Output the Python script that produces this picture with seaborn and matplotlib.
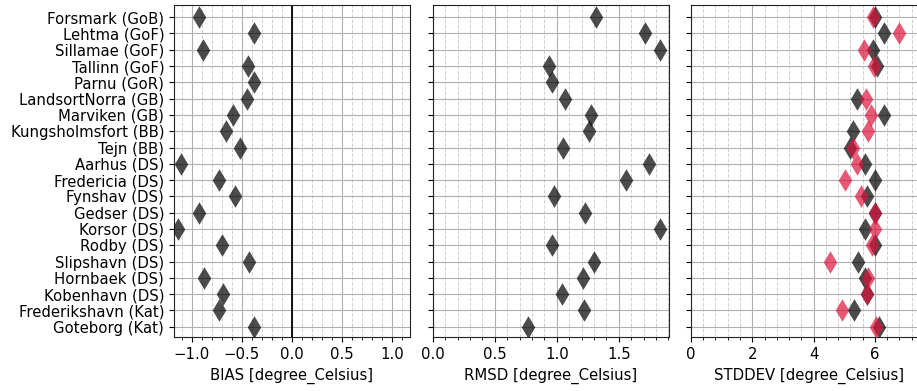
import numpy as np
import pandas as pd
import matplotlib
matplotlib.use("Agg")
import matplotlib.pyplot as plt
from matplotlib.ticker import AutoMinorLocator, MultipleLocator
import seaborn as sns

# --- data ---
stations = ["Forsmark (GoB)", "Lehtma (GoF)", "Sillamae (GoF)", "Tallinn (GoF)",
            "Parnu (GoR)", "LandsortNorra (GB)", "Marviken (GB)", "Kungsholmsfort (BB)",
            "Tejn (BB)", "Aarhus (DS)", "Fredericia (DS)", "Fynshav (DS)", "Gedser (DS)",
            "Korsor (DS)", "Rodby (DS)", "Slipshavn (DS)", "Hornbaek (DS)",
            "Kobenhavn (DS)", "Frederikshavn (Kat)", "Goteborg (Kat)"]
bias = [-0.93, -0.38, -0.89, -0.44, -0.38, -0.45, -0.59, -0.66, -0.52, -1.11,
        -0.73, -0.57, -0.93, -1.13, -0.70, -0.43, -0.88, -0.69, -0.73, -0.38]
rmsd = [1.32, 1.71, 1.83, 0.94, 0.96, 1.07, 1.28, 1.26, 1.05, 1.74,
        1.56, 0.98, 1.23, 1.83, 0.96, 1.30, 1.21, 1.04, 1.22, 0.77]
# Parnu has no STDDEV values in the reference (nothing drawn in that row)
std_model = [5.99, 6.29, 5.93, 6.08, np.nan, 5.43, 6.29, 5.27, 5.19, 5.67,
             5.99, 5.73, 6.00, 5.68, 6.00, 5.45, 5.69, 5.74, 5.31, 6.14]
std_obs = [5.93, 6.78, 5.64, 5.98, np.nan, 5.70, 5.86, 5.77, 5.27, 5.41,
           5.04, 5.54, 6.00, 6.00, 5.89, 4.52, 5.79, 5.74, 4.92, 6.03]

df = pd.DataFrame({"station": stations, "bias": bias, "rmsd": rmsd,
                   "std_model": std_model, "std_obs": std_obs})

DARK = "black"
RED = "#DC143C"
MSIZE = 11.5
FS = 10.7

fig = plt.figure(figsize=(9.17, 3.91), dpi=100)
w, h, b = 0.2574, 0.849, 0.138
ax1 = fig.add_axes([0.1897, b, w, h])
ax2 = fig.add_axes([0.4719, b, w, h])
ax3 = fig.add_axes([0.7535, b, w, h])

def strip(ax, col, color):
    sns.stripplot(data=df, x=col, y="station", order=stations, jitter=False,
                  marker="d", size=MSIZE, color=color, alpha=0.7, linewidth=0, ax=ax)

strip(ax1, "bias", DARK)
strip(ax2, "rmsd", DARK)
strip(ax3, "std_model", DARK)
strip(ax3, "std_obs", RED)

bmax = np.nanmax(np.abs(bias)) * 1.04
ax1.set_xlim(-bmax, bmax)
ax1.axvline(0, color="black", lw=1.3, zorder=1)
ax2.set_xlim(0, np.nanmax(rmsd) * 1.04)
ax3.set_xlim(0, 7.7)  # right edge of this panel is cut off in the reference

ax1.xaxis.set_major_locator(MultipleLocator(0.5))
ax2.xaxis.set_major_locator(MultipleLocator(0.5))
ax3.xaxis.set_major_locator(MultipleLocator(2))

labels = ["BIAS [degree_Celsius]", "RMSD [degree_Celsius]", "STDDEV [degree_Celsius]"]
for ax, lab in zip([ax1, ax2, ax3], labels):
    ax.set_ylim(len(stations) - 1 + 0.63, -0.74)
    ax.xaxis.set_minor_locator(AutoMinorLocator(5))
    ax.set_axisbelow(True)
    ax.grid(True, which="major", color="#b0b0b0", lw=0.8)
    ax.grid(True, which="minor", axis="x", color="#d0d0d0", lw=0.7, ls="--")
    ax.set_xlabel(lab, fontsize=FS)
    ax.set_ylabel("")
    ax.tick_params(labelsize=FS)
    for s in ax.spines.values():
        s.set_visible(True)
        s.set_color("#222222")

ax2.set_yticklabels([])
ax3.set_yticklabels([])

fig.savefig("out.png", dpi=100)
